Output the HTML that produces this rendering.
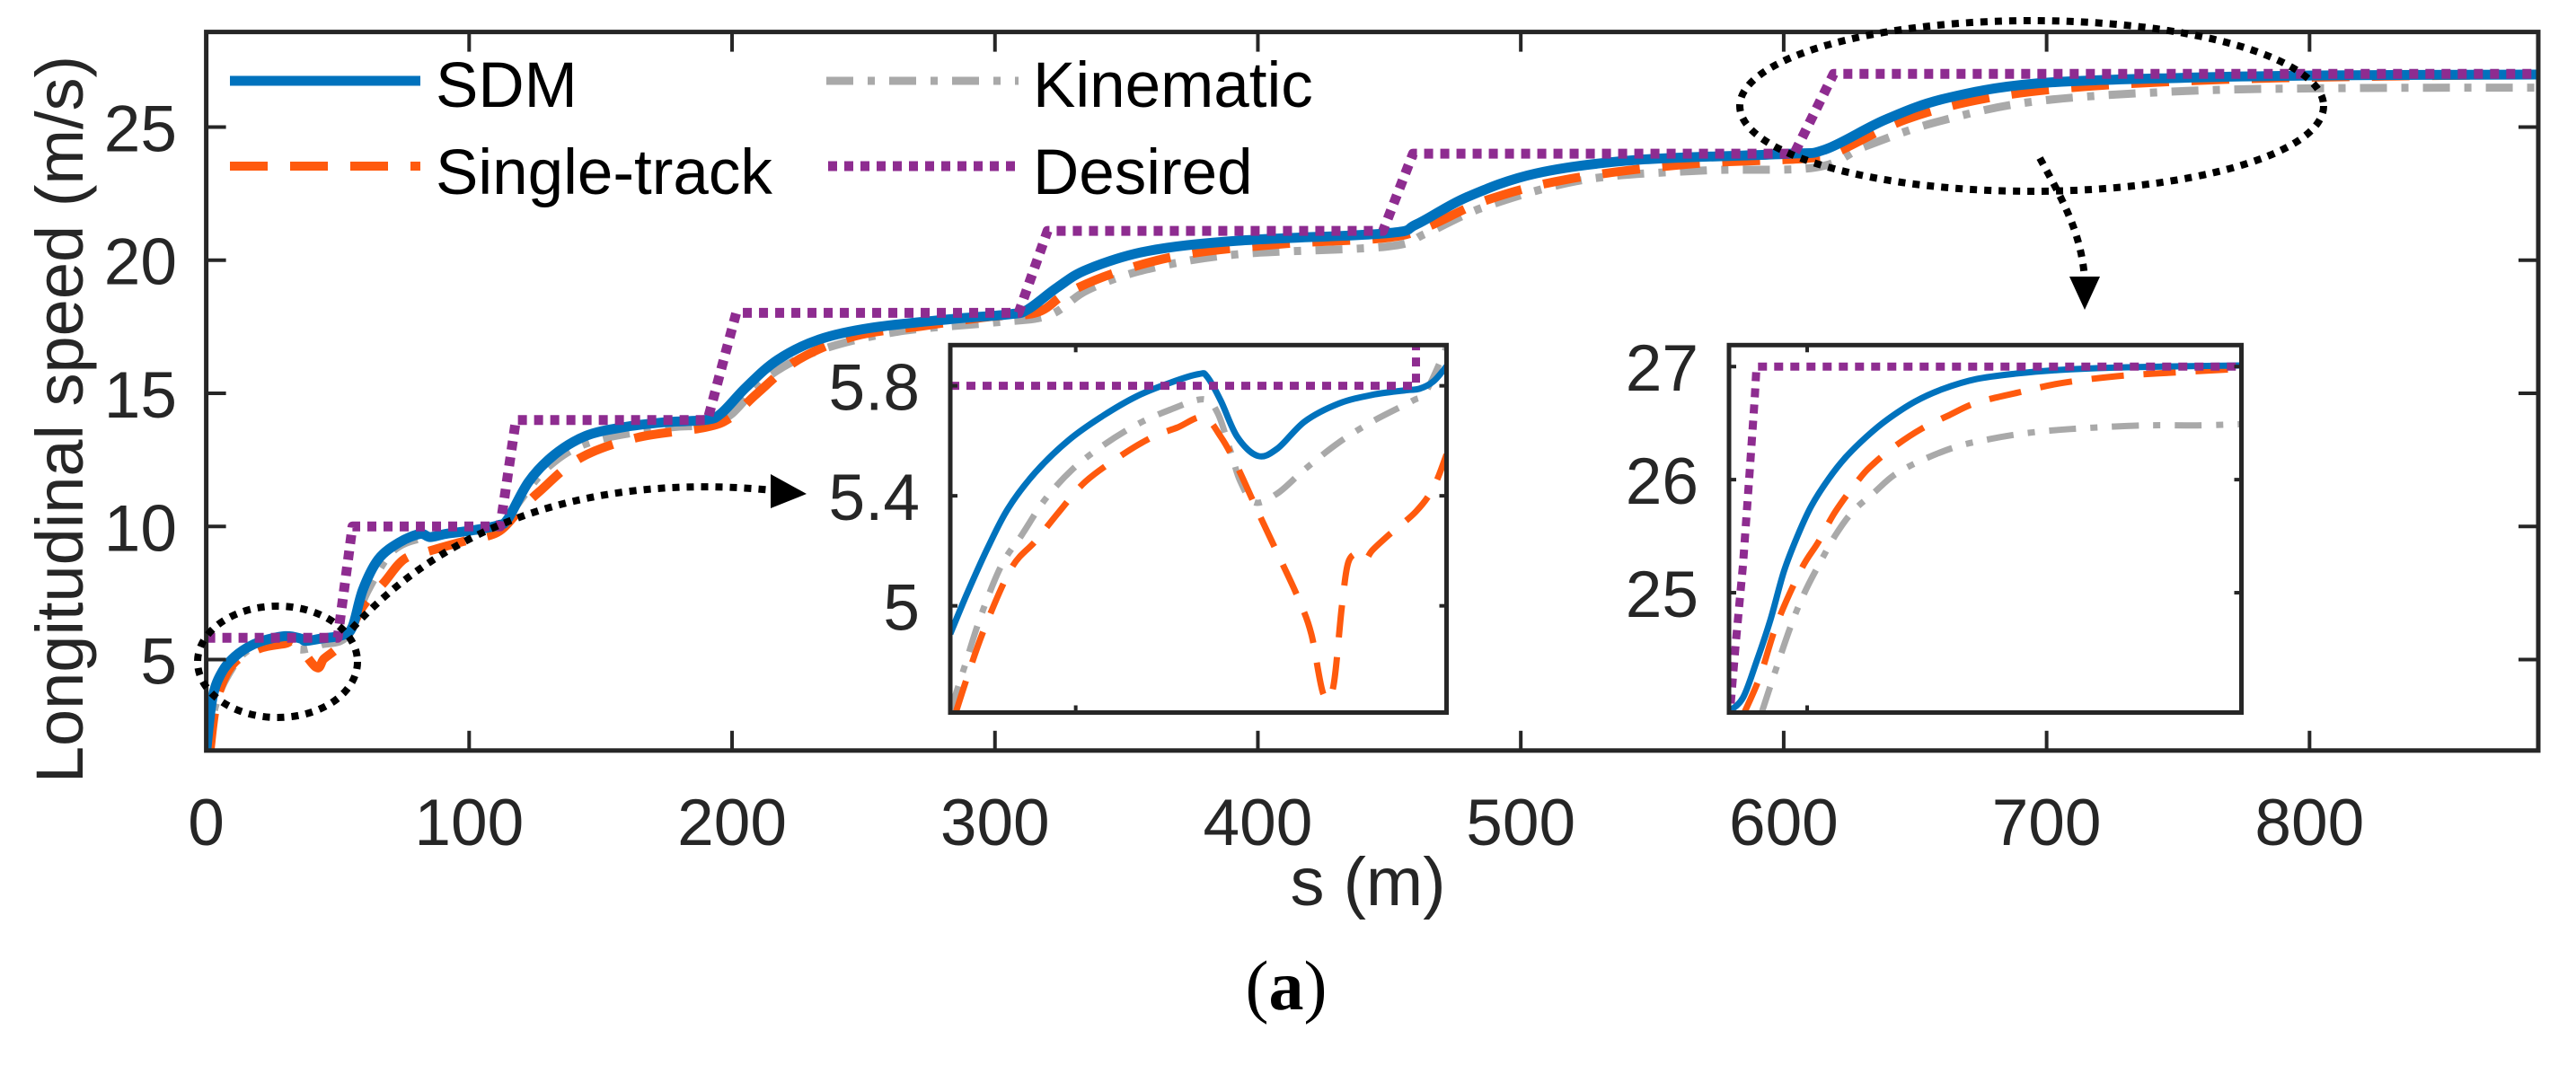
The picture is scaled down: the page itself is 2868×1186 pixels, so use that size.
<!DOCTYPE html>
<html><head><meta charset="utf-8"><style>
html,body{margin:0;padding:0;background:#fff;}
svg{display:block;font-family:"Liberation Sans",Arial,sans-serif;}
</style></head><body>
<svg id="chart" width="2868" height="1186" viewBox="0 0 2868 1186" xmlns="http://www.w3.org/2000/svg">
<rect x="0" y="0" width="2868" height="1186" fill="#fff"/>
<g id="main"></g>
<g id="inset1"></g>
<g id="inset2"></g>
<g id="legend">
<line x1="256" y1="90" x2="468" y2="90" stroke="#0072BD" stroke-width="11"/>
<text x="485" y="119" font-size="71" fill="#000">SDM</text>
<line x1="256" y1="185" x2="468" y2="185" stroke="#FF5A0E" stroke-width="10" stroke-dasharray="42 25"/>
<text x="485" y="216" font-size="71" fill="#000">Single-track</text>
<line x1="920" y1="90" x2="1134" y2="90" stroke="#A9A9A9" stroke-width="9" stroke-dasharray="30 16 8 16"/>
<text x="1150" y="119" font-size="71" fill="#000">Kinematic</text>
<line x1="922" y1="185" x2="1134" y2="185" stroke="#8E2C90" stroke-width="11" stroke-dasharray="10 8"/>
<text x="1150" y="216" font-size="71" fill="#000">Desired</text>
</g>
<g id="annot" fill="none" stroke="#000" stroke-width="8" stroke-dasharray="8 8">
<ellipse cx="309" cy="737" rx="89" ry="62"/>
<path d="M392,700 C520,560 700,530 860,546"/>
<polygon points="858,528 898,550 858,566" fill="#000" stroke="none"/>
<ellipse cx="2262" cy="118" rx="325" ry="95"/>
<path d="M2271,176 C2295,220 2318,260 2321,312"/>
<polygon points="2304,308 2338,308 2321,345" fill="#000" stroke="none"/>
</g>
<text transform="translate(92,467) rotate(-90)" text-anchor="middle" font-size="74" fill="#262626">Longitudinal speed (m/s)</text>
<text x="1523" y="1008" text-anchor="middle" font-size="76" fill="#262626">s (m)</text>
<text x="1432" y="1124" text-anchor="middle" font-size="78" fill="#000" font-family="'Liberation Serif',serif">(<tspan font-weight="bold">a</tspan>)</text>
</svg>
<script>
// ---- main chart data ----
const desiredS = [0, 50, 55.6, 111.8, 117.8, 190.7, 201.6, 309, 320, 447.6, 459, 604, 619, 887];
const desiredV = [5.82, 5.82, 10.0, 10.0, 14.0, 14.0, 18.02, 18.02, 21.1, 21.1, 24.0, 24.0, 27.0, 27.0];
const sdmS = [0, 2.4, 6.3, 12.2, 20.1, 30, 35.9, 37.9, 43.8, 51.7, 55.6, 59.6, 65.5, 73.4, 81.3, 85.2, 91.1, 101, 110.8, 114.8, 122.7, 132.5, 144.4, 158.2, 174, 189.7, 195.7, 205.5, 217.4, 233.1, 252.9, 282.4, 305.7, 312.5, 323.9, 335.3, 358, 392.2, 449, 460.4, 479.4, 505.8, 543.7, 600.7, 615.8, 638.7, 661.4, 695.4, 752.4, 809.2, 887];
const sdmV = [1.57, 3.57, 4.58, 5.22, 5.66, 5.88, 5.79, 5.70, 5.79, 5.91, 6.23, 7.63, 8.77, 9.4, 9.72, 9.6, 9.72, 9.85, 10.04, 10.29, 11.69, 12.7, 13.4, 13.72, 13.91, 14.0, 14.23, 15.24, 16.26, 17.02, 17.46, 17.78, 17.97, 18.15, 18.99, 19.66, 20.34, 20.73, 21.01, 21.35, 22.36, 23.26, 23.76, 23.99, 24.16, 25.28, 26.07, 26.63, 26.85, 26.94, 26.97];
const stS = [1.4, 4.3, 10.3, 20.1, 30, 33.9, 41.8, 44.8, 49.7, 53.6, 59.6, 67.5, 75.3, 85.2, 99, 110.8, 118.7, 126.6, 142.4, 164.1, 189.7, 199.6, 209.5, 225.2, 246.9, 272.6, 297.4, 315.9, 327.3, 346.3, 372.8, 410.8, 449, 464.1, 486.9, 517.3, 562.8, 608.3, 619.7, 646.3, 676.6, 714.6, 771.5, 828.4, 887];
const stV = [1.57, 3.57, 4.84, 5.41, 5.6, 5.66, 4.71, 5.03, 5.41, 5.85, 7.0, 7.88, 8.77, 9.09, 9.47, 9.78, 10.55, 11.3, 12.58, 13.34, 13.72, 14.1, 14.99, 16.26, 17.15, 17.53, 17.87, 18.03, 18.76, 19.55, 20.22, 20.62, 20.84, 21.24, 22.25, 23.03, 23.6, 23.82, 24.04, 25.28, 26.07, 26.52, 26.8, 26.91, 26.97];
const kinS = [0, 3.4, 8.3, 16.2, 30, 35.9, 43.8, 53.6, 61.5, 71.4, 85.2, 101, 112.8, 118.7, 130.6, 146.4, 174, 189.7, 199.6, 213.4, 233.1, 262.7, 297.4, 320.2, 335.3, 358, 392.2, 449, 464.1, 486.9, 524.8, 570.3, 612, 631, 657.5, 695.4, 752.4, 809.2, 887];
const kinV = [1.57, 3.28, 4.43, 5.38, 5.63, 5.38, 5.57, 5.89, 7.6, 9.12, 9.63, 9.82, 10.0, 10.89, 12.29, 13.18, 13.69, 13.82, 14.2, 15.6, 16.61, 17.31, 17.64, 17.92, 18.88, 19.66, 20.22, 20.51, 21.01, 22.02, 23.03, 23.37, 23.48, 24.27, 25.17, 25.96, 26.35, 26.46, 26.48];
const mainXTicks = [0, 100, 200, 300, 400, 500, 600, 700, 800];
const mainYTicks = [5, 10, 15, 20, 25];

// ---- inset 1 data (s 8.5..54) ----
const in1SdmS = [8.5, 10.1, 11.96, 13.8, 16.3, 19.4, 22.5, 25.6, 28.65, 31.3, 32.05, 33.3, 34.8, 36.7, 38.5, 41.0, 44.1, 47.2, 50.3, 51.5, 52.8, 54.0];
const in1SdmV = [4.898, 5.05, 5.213, 5.354, 5.485, 5.604, 5.691, 5.762, 5.811, 5.843, 5.833, 5.746, 5.615, 5.545, 5.572, 5.67, 5.735, 5.767, 5.784, 5.789, 5.816, 5.871];
const in1KinS = [8.5, 9.8, 11.3, 13.2, 15.05, 17.2, 19.7, 22.5, 25.6, 28.65, 31.7, 33.0, 34.2, 35.1, 36.4, 38.5, 41.0, 44.1, 47.2, 50.9, 52.1, 54.0];
const in1KinV = [4.615, 4.778, 4.963, 5.148, 5.257, 5.387, 5.496, 5.583, 5.659, 5.713, 5.751, 5.702, 5.561, 5.452, 5.376, 5.409, 5.496, 5.593, 5.67, 5.746, 5.778, 5.941];
const in1StS = [9.03, 10.1, 11.65, 14.1, 16.3, 18.5, 20.9, 24.3, 27.1, 29.3, 31.7, 33.3, 34.8, 36.7, 38.5, 40.4, 41.6, 42.7, 43.6, 44.4, 45.0, 46.0, 46.6, 47.2, 48.7, 51.2, 52.8, 54.0];
const in1StV = [4.615, 4.746, 4.92, 5.137, 5.235, 5.343, 5.452, 5.55, 5.615, 5.648, 5.686, 5.615, 5.507, 5.343, 5.191, 5.028, 4.898, 4.68, 4.702, 4.996, 5.159, 5.191, 5.17, 5.202, 5.257, 5.343, 5.43, 5.55];
const in1DesS = [8.5, 51.2, 51.2];
const in1DesV = [5.8, 5.8, 5.95];
const in1YTicks = [5, 5.4, 5.8];
const in1YLabels = ["5", "5.4", "5.8"];
const in1XTicks = [20];

// ---- inset 2 data (s 623..800) ----
const in2SdmS = [623, 627.8, 632.5, 637.3, 642, 646.8, 651.5, 657.5, 663.4, 670.5, 677.6, 687.2, 696.7, 708.5, 722.8, 737, 754.9, 772.7, 800];
const in2SdmV = [23.95, 24.07, 24.39, 24.76, 25.19, 25.51, 25.77, 26.01, 26.2, 26.38, 26.53, 26.69, 26.8, 26.89, 26.94, 26.97, 26.99, 27.0, 27.01];
const in2StS = [628.3, 633.7, 639.6, 648, 653.9, 659.8, 668.1, 672.9, 680, 689.5, 699, 708.5, 722.8, 737, 754.9, 771.5, 800];
const in2StV = [23.94, 24.26, 24.73, 25.21, 25.45, 25.72, 26.01, 26.14, 26.29, 26.45, 26.57, 26.68, 26.77, 26.85, 26.91, 26.94, 26.98];
const in2KinS = [634.3, 638.4, 644.4, 649.1, 653.9, 659.8, 665.8, 672.9, 680, 689.5, 701.4, 713.3, 725.2, 737, 748.9, 766.7, 784.6, 800];
const in2KinV = [23.94, 24.26, 24.71, 25.0, 25.24, 25.51, 25.72, 25.88, 26.04, 26.17, 26.29, 26.36, 26.41, 26.44, 26.46, 26.48, 26.48, 26.49];
const in2DesS = [623.6, 625.4, 627.8, 630.1, 631.9, 632.5, 800];
const in2DesV = [24.02, 24.57, 25.24, 26.06, 26.73, 27.0, 27.0];
const in2YTicks = [25, 26, 27];
const in2YLabels = ["25", "26", "27"];
const in2XTicks = [650];

const NS = "http://www.w3.org/2000/svg";
function mk(parent, tag, attrs) {
  const el = document.createElementNS(NS, tag);
  for (const k in attrs) el.setAttribute(k, attrs[k]);
  parent.appendChild(el);
  return el;
}
function makeAxes(x0, x1, y0, y1, sMin, sMax, vMin, vMax) {
  return {
    x: s => x0 + (s - sMin) / (sMax - sMin) * (x1 - x0),
    y: v => y1 - (v - vMin) / (vMax - vMin) * (y1 - y0),
    x0, x1, y0, y1
  };
}
function pathD(ax, S, V) {
  const P = S.map((s, i) => [ax.x(s), ax.y(V[i])]);
  let d = "M" + P[0][0].toFixed(1) + "," + P[0][1].toFixed(1);
  for (let i = 0; i < P.length - 1; i++) {
    const p0 = P[i - 1] || P[i], p1 = P[i], p2 = P[i + 1], p3 = P[i + 2] || P[i + 1];
    const c1 = [p1[0] + (p2[0] - p0[0]) / 6, p1[1] + (p2[1] - p0[1]) / 6];
    const c2 = [p2[0] - (p3[0] - p1[0]) / 6, p2[1] - (p3[1] - p1[1]) / 6];
    d += "C" + c1[0].toFixed(1) + "," + c1[1].toFixed(1) + " " + c2[0].toFixed(1) + "," + c2[1].toFixed(1) + " " + p2[0].toFixed(1) + "," + p2[1].toFixed(1);
  }
  return d;
}
function pathLin(ax, S, V) {
  let d = "";
  for (let i = 0; i < S.length; i++) d += (i ? "L" : "M") + ax.x(S[i]).toFixed(1) + "," + ax.y(V[i]).toFixed(1);
  return d;
}
function clipRect(id, ax) {
  const defs = mk(document.getElementById("chart"), "defs", {});
  const cp = mk(defs, "clipPath", {id: id});
  mk(cp, "rect", {x: ax.x0, y: ax.y0, width: ax.x1 - ax.x0, height: ax.y1 - ax.y0});
}
const styles = {
  sdm: {stroke: "#0072BD", "stroke-dasharray": "none"},
  st: {stroke: "#FF5A0E", "stroke-dasharray": "42 25"},
  kin: {stroke: "#A9A9A9", "stroke-dasharray": "30 16 8 16"},
  des: {stroke: "#8E2C90", "stroke-dasharray": "10 8"}
};
function series(g, ax, S, V, st, w, clip, linear) {
  const p = mk(g, "path", {d: linear ? pathLin(ax, S, V) : pathD(ax, S, V), fill: "none", stroke: st.stroke, "stroke-width": w, "stroke-dasharray": st["stroke-dasharray"], "stroke-linejoin": "round", "clip-path": "url(#" + clip + ")"});
  return p;
}

// ---- main ----
const gm = document.getElementById("main");
const axM = makeAxes(229.6, 2826, 35.6, 835.8, 0, 887, 1.585, 28.57);
clipRect("clipMain", axM);
let p;
p = series(gm, axM, kinS, kinV, styles.kin, 9, "clipMain");


p = series(gm, axM, stS, stV, styles.st, 10, "clipMain");


p = series(gm, axM, sdmS, sdmV, styles.sdm, 11, "clipMain");


p = series(gm, axM, desiredS, desiredV, styles.des, 11, "clipMain", true);



function frame(g, ax, xt, yt, ylabels, labX, tickLen, fontSize, showX) {
  const r = mk(g, "rect", {x: ax.x0, y: ax.y0, width: ax.x1 - ax.x0, height: ax.y1 - ax.y0, fill: "none", stroke: "#262626", "stroke-width": 5});
  
  
  xt.forEach(t => {
    const x = ax.x(t);
    const l1 = mk(g, "line", {x1: x, y1: ax.y1, x2: x, y2: ax.y1 - tickLen, stroke: "#262626", "stroke-width": 4});
    
    
    const l2 = mk(g, "line", {x1: x, y1: ax.y0, x2: x, y2: ax.y0 + tickLen, stroke: "#262626", "stroke-width": 4});
    
    
    if (showX) {
      const tx = mk(g, "text", {x: x, y: 941, "text-anchor": "middle", "font-size": fontSize, fill: "#262626"});
      tx.textContent = String(t);
      
      
    }
  });
  yt.forEach((t, i) => {
    const y = ax.y(t);
    const l1 = mk(g, "line", {x1: ax.x0, y1: y, x2: ax.x0 + tickLen, y2: y, stroke: "#262626", "stroke-width": 4});
    
    
    const l2 = mk(g, "line", {x1: ax.x1, y1: y, x2: ax.x1 - tickLen, y2: y, stroke: "#262626", "stroke-width": 4});
    
    
    const tx = mk(g, "text", {x: labX, y: y + 27, "text-anchor": "end", "font-size": fontSize, fill: "#262626"});
    tx.textContent = ylabels[i];
    
    
  });
}
frame(gm, axM, mainXTicks, mainYTicks, mainYTicks.map(String), 197, 22, 73, true);

// ---- inset 1 ----
const g1 = document.getElementById("inset1");
const ax1 = makeAxes(1058, 1610.5, 384.3, 793.5, 8.5, 54, 4.612, 5.948);
mk(g1, "rect", {x: ax1.x0, y: ax1.y0, width: ax1.x1 - ax1.x0, height: ax1.y1 - ax1.y0, fill: "#fff"});
clipRect("clip1", ax1);
p = series(g1, ax1, in1KinS, in1KinV, styles.kin, 7, "clip1");


p = series(g1, ax1, in1StS, in1StV, {stroke: "#FF5A0E", "stroke-dasharray": "36 22"}, 7, "clip1");


p = series(g1, ax1, in1SdmS, in1SdmV, styles.sdm, 7, "clip1");


p = series(g1, ax1, in1DesS, in1DesV, styles.des, 9, "clip1", true);


frame(g1, ax1, in1XTicks, in1YTicks, in1YLabels, 1024, 8, 73, false);

// ---- inset 2 ----
const g2 = document.getElementById("inset2");
const ax2 = makeAxes(1925, 2495.5, 384.3, 793.5, 623, 800, 23.94, 27.19);
mk(g2, "rect", {x: ax2.x0, y: ax2.y0, width: ax2.x1 - ax2.x0, height: ax2.y1 - ax2.y0, fill: "#fff"});
clipRect("clip2", ax2);
p = series(g2, ax2, in2KinS, in2KinV, styles.kin, 7, "clip2");


p = series(g2, ax2, in2StS, in2StV, {stroke: "#FF5A0E", "stroke-dasharray": "36 22"}, 7, "clip2");


p = series(g2, ax2, in2SdmS, in2SdmV, styles.sdm, 7, "clip2");


p = series(g2, ax2, in2DesS, in2DesV, styles.des, 9, "clip2", true);


frame(g2, ax2, in2XTicks, in2YTicks, in2YLabels, 1891, 8, 73, false);

// keep annotations on top
const svg = document.getElementById("chart");
svg.appendChild(document.getElementById("annot"));
</script>
</body></html>
